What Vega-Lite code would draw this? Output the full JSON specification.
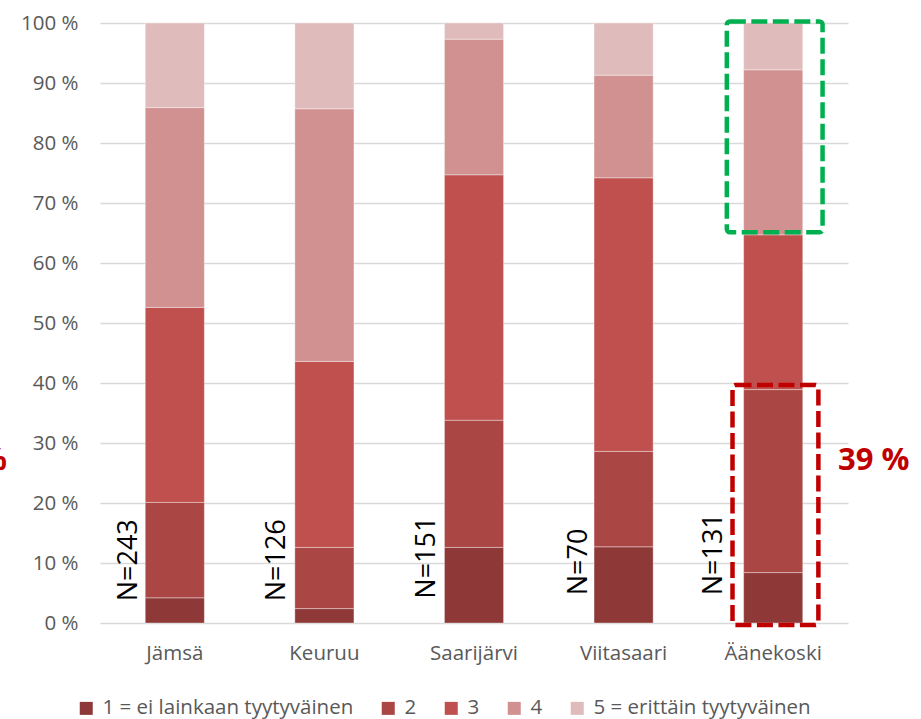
{
  "$schema": "https://vega.github.io/schema/vega-lite/v6.json",
  "width": 748,
  "height": 600,
  "autosize": {"type": "none"},
  "padding": {"left": 100, "top": 23, "right": 73, "bottom": 96},
  "background": "white",
  "config": {"view": {"stroke": null}, "font": "Open Sans"},
  "datasets": {
    "bars": [
      {"kunta": "Jämsä", "vastaus": "1 = ei lainkaan tyytyväinen", "jarjestys": 1, "osuus": 4.2},
      {"kunta": "Jämsä", "vastaus": "2", "jarjestys": 2, "osuus": 15.9},
      {"kunta": "Jämsä", "vastaus": "3", "jarjestys": 3, "osuus": 32.5},
      {"kunta": "Jämsä", "vastaus": "4", "jarjestys": 4, "osuus": 33.3},
      {"kunta": "Jämsä", "vastaus": "5 = erittäin tyytyväinen", "jarjestys": 5, "osuus": 14.1},
      {"kunta": "Keuruu", "vastaus": "1 = ei lainkaan tyytyväinen", "jarjestys": 1, "osuus": 2.4},
      {"kunta": "Keuruu", "vastaus": "2", "jarjestys": 2, "osuus": 10.2},
      {"kunta": "Keuruu", "vastaus": "3", "jarjestys": 3, "osuus": 31.0},
      {"kunta": "Keuruu", "vastaus": "4", "jarjestys": 4, "osuus": 42.1},
      {"kunta": "Keuruu", "vastaus": "5 = erittäin tyytyväinen", "jarjestys": 5, "osuus": 14.3},
      {"kunta": "Saarijärvi", "vastaus": "1 = ei lainkaan tyytyväinen", "jarjestys": 1, "osuus": 12.6},
      {"kunta": "Saarijärvi", "vastaus": "2", "jarjestys": 2, "osuus": 21.2},
      {"kunta": "Saarijärvi", "vastaus": "3", "jarjestys": 3, "osuus": 40.9},
      {"kunta": "Saarijärvi", "vastaus": "4", "jarjestys": 4, "osuus": 22.6},
      {"kunta": "Saarijärvi", "vastaus": "5 = erittäin tyytyväinen", "jarjestys": 5, "osuus": 2.7},
      {"kunta": "Viitasaari", "vastaus": "1 = ei lainkaan tyytyväinen", "jarjestys": 1, "osuus": 12.7},
      {"kunta": "Viitasaari", "vastaus": "2", "jarjestys": 2, "osuus": 15.9},
      {"kunta": "Viitasaari", "vastaus": "3", "jarjestys": 3, "osuus": 45.6},
      {"kunta": "Viitasaari", "vastaus": "4", "jarjestys": 4, "osuus": 17.1},
      {"kunta": "Viitasaari", "vastaus": "5 = erittäin tyytyväinen", "jarjestys": 5, "osuus": 8.7},
      {"kunta": "Äänekoski", "vastaus": "1 = ei lainkaan tyytyväinen", "jarjestys": 1, "osuus": 8.4},
      {"kunta": "Äänekoski", "vastaus": "2", "jarjestys": 2, "osuus": 30.5},
      {"kunta": "Äänekoski", "vastaus": "3", "jarjestys": 3, "osuus": 25.8},
      {"kunta": "Äänekoski", "vastaus": "4", "jarjestys": 4, "osuus": 27.5},
      {"kunta": "Äänekoski", "vastaus": "5 = erittäin tyytyväinen", "jarjestys": 5, "osuus": 7.8}
    ],
    "nlabels": [
      {"teksti": "N=243", "xpos": 0.194, "ypos": 3.62},
      {"teksti": "N=126", "xpos": 1.186, "ypos": 3.62},
      {"teksti": "N=151", "xpos": 2.189, "ypos": 4.05},
      {"teksti": "N=70", "xpos": 3.203, "ypos": 4.62},
      {"teksti": "N=131", "xpos": 4.104, "ypos": 4.62}
    ],
    "greenbox": [{"x1": 4.19, "x2": 4.83, "y1": 65.13, "y2": 100.25}],
    "redbox": [{"x1": 4.228, "x2": 4.802, "y1": -0.33, "y2": 39.67}],
    "bigtext": [{"teksti": "39 %", "xpos": 4.933, "ypos": 27.0}],
    "edgetext": [{"teksti": "%", "xpos": -0.622, "ypos": 27.0}]
  },
  "layer": [
    {
      "data": {"name": "bars"},
      "mark": {"type": "bar", "stroke": "white", "strokeWidth": 1, "strokeOpacity": 0.35},
      "encoding": {
        "x": {
          "field": "kunta", "type": "nominal",
          "sort": ["Jämsä", "Keuruu", "Saarijärvi", "Viitasaari", "Äänekoski"],
          "scale": {"paddingInner": 0.605, "paddingOuter": 0.3025},
          "axis": {"title": null, "labelAngle": 0, "labelFontSize": 20.5, "labelColor": "#595959", "labelPadding": 20, "ticks": false, "domain": false, "labelFont": "Open Sans"}
        },
        "y": {
          "field": "osuus", "type": "quantitative", "stack": true,
          "scale": {"domain": [0, 100], "nice": false},
          "axis": {"title": null, "values": [0, 10, 20, 30, 40, 50, 60, 70, 80, 90, 100], "labelExpr": "datum.value + ' %'", "labelFontSize": 20.5, "labelColor": "#595959", "labelPadding": 22, "ticks": false, "domain": false, "gridColor": "#D9D9D9", "gridWidth": 1.3, "labelFont": "Open Sans"}
        },
        "color": {
          "field": "vastaus", "type": "nominal",
          "scale": {
            "domain": ["1 = ei lainkaan tyytyväinen", "2", "3", "4", "5 = erittäin tyytyväinen"],
            "range": ["#8E3937", "#AA4644", "#C0504D", "#D19190", "#E0BBBB"]
          },
          "legend": {
            "title": null, "orient": "none", "legendX": -24, "legendY": 675, "direction": "horizontal",
            "symbolType": "square", "symbolSize": 169, "symbolStrokeWidth": 0, "labelFontSize": 20.5,
            "labelColor": "#595959", "columnPadding": 24, "labelOffset": 6, "padding": 0, "labelFont": "Open Sans", "labelLimit": 400
          }
        },
        "order": {"field": "jarjestys", "type": "quantitative"}
      }
    },
    {
      "data": {"name": "nlabels"},
      "mark": {"type": "text", "angle": 270, "align": "left", "baseline": "middle", "fontSize": 27, "color": "#000000", "font": "Open Sans"},
      "encoding": {
        "x": {"field": "xpos", "type": "quantitative", "scale": {"domain": [0, 5], "nice": false, "zero": false}, "axis": null},
        "y": {"field": "ypos", "type": "quantitative", "scale": {"domain": [0, 100], "nice": false}, "title": null},
        "text": {"field": "teksti"}
      }
    },
    {
      "data": {"name": "greenbox"},
      "mark": {"type": "rect", "fill": "white", "fillOpacity": 0, "stroke": "#00B050", "strokeWidth": 4.5, "strokeDash": [16, 5.5], "cornerRadius": 3},
      "encoding": {
        "x": {"field": "x1", "type": "quantitative", "scale": {"domain": [0, 5], "nice": false, "zero": false}, "axis": null},
        "x2": {"field": "x2"},
        "y": {"field": "y1", "type": "quantitative", "scale": {"domain": [0, 100], "nice": false}, "title": null},
        "y2": {"field": "y2"}
      }
    },
    {
      "data": {"name": "redbox"},
      "mark": {"type": "rect", "fill": "white", "fillOpacity": 0, "stroke": "#C00000", "strokeWidth": 4.5, "strokeDash": [16, 5.5], "cornerRadius": 3},
      "encoding": {
        "x": {"field": "x1", "type": "quantitative", "scale": {"domain": [0, 5], "nice": false, "zero": false}, "axis": null},
        "x2": {"field": "x2"},
        "y": {"field": "y1", "type": "quantitative", "scale": {"domain": [0, 100], "nice": false}, "title": null},
        "y2": {"field": "y2"}
      }
    },
    {
      "data": {"name": "bigtext"},
      "mark": {"type": "text", "align": "left", "baseline": "middle", "fontSize": 31, "fontWeight": "bold", "color": "#C00000", "font": "Open Sans"},
      "encoding": {
        "x": {"field": "xpos", "type": "quantitative", "scale": {"domain": [0, 5], "nice": false, "zero": false}, "axis": null},
        "y": {"field": "ypos", "type": "quantitative", "scale": {"domain": [0, 100], "nice": false}, "title": null},
        "text": {"field": "teksti"}
      }
    },
    {
      "data": {"name": "edgetext"},
      "mark": {"type": "text", "align": "right", "baseline": "middle", "fontSize": 31, "fontWeight": "bold", "color": "#C00000", "font": "Open Sans"},
      "encoding": {
        "x": {"field": "xpos", "type": "quantitative", "scale": {"domain": [0, 5], "nice": false, "zero": false}, "axis": null},
        "y": {"field": "ypos", "type": "quantitative", "scale": {"domain": [0, 100], "nice": false}, "title": null},
        "text": {"field": "teksti"}
      }
    }
  ],
  "resolve": {"scale": {"x": "independent"}}
}
